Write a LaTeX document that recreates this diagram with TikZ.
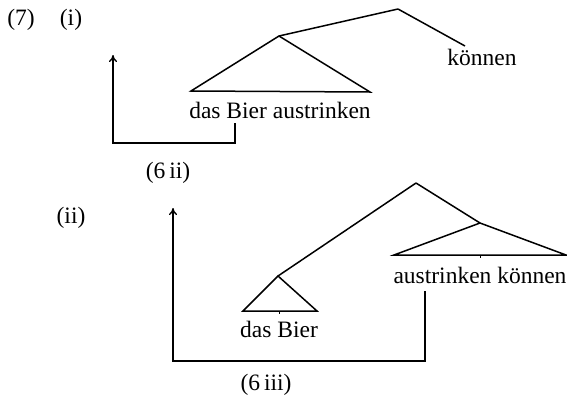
\documentclass[tikz,border=0pt]{standalone}
\usepackage{fontspec}
\setmainfont{Liberation Serif}
\usetikzlibrary{arrows.meta}
\begin{document}
\begin{tikzpicture}[x=1pt,y=-1pt,
  line width=1.5pt,
  txt/.style={font=\fontsize{23.5}{26}\selectfont, inner sep=0pt, anchor=base},
  edge/.style={line width=1.5pt, line join=miter},
  brk/.style={line width=1.4pt},
  arr/.style={brk, -{To[length=7pt,width=8pt]}}]
\useasboundingbox (0,0) rectangle (567,394);
% labels
\node[txt] (n7) at (21,25) {(7)};
\node[txt] (ni) at (71,25) {(i)};
\node[txt] (nii) at (71,223) {(ii)};
% tree (i)
\coordinate (r1) at (398,9);
\coordinate (a1) at (279,36);
\coordinate (k1) at (465,46);
\coordinate (bl1) at (191,91);
\coordinate (br1) at (370,92);
\node[txt] (kon) at (482,65) {können};
\node[txt] (dba) at (280,118) {das Bier austrinken};
\draw[edge] (r1) -- (a1) (r1) -- (k1);
\draw[edge] (a1) -- (bl1) -- (br1) -- cycle;
\coordinate (b1) at (113,143);
\coordinate (t1) at (113,55);
\coordinate (s1) at (235,123);
\draw[arr] (s1) |- (b1) -- (t1);
\node[txt] (l6ii) at (168,178) {(6\,ii)};
% tree (ii)
\coordinate (r2) at (416,183);
\coordinate (la) at (278,276);
\coordinate (ra) at (480,223);
\coordinate (rbl) at (394,255);
\coordinate (rbr) at (566,255);
\coordinate (rbm) at (480,255);
\coordinate (lbl) at (243,311);
\coordinate (lbr) at (317,311);
\coordinate (lbm) at (279,311);
\draw[edge] (r2) -- (la) (r2) -- (ra);
\draw[edge] (ra) -- (rbl) -- (rbr) -- cycle;
\draw[edge] (la) -- (lbl) -- (lbr) -- cycle;
\draw[line width=0.8pt] (rbm) -- ++(0,3) (lbm) -- ++(0,3);
\node[txt] (ak) at (480,283) {austrinken können};
\node[txt] (db) at (279,337) {das Bier};
\coordinate (s2) at (425,291);
\coordinate (b2) at (173,361);
\coordinate (t2) at (173,208);
\draw[arr] (s2) |- (b2) -- (t2);
\node[txt] (l6iii) at (266,390) {(6\,iii)};
\end{tikzpicture}
\end{document}
